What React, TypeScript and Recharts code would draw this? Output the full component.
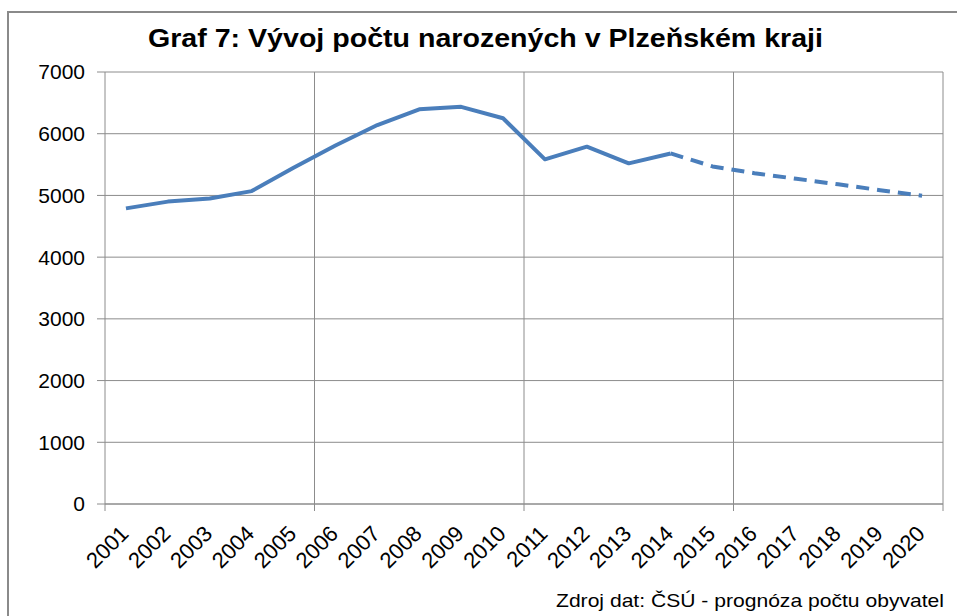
import React from 'react';
import { LineChart, Line, XAxis, YAxis, CartesianGrid, ReferenceLine } from 'recharts';

const years = ['2001', '2002', '2003', '2004', '2005', '2006', '2007', '2008', '2009', '2010', '2011', '2012', '2013', '2014', '2015', '2016', '2017', '2018', '2019', '2020'];
// actual births 2001–2014
const actualBirths = [4790, 4900, 4950, 5070, 5450, 5810, 6140, 6395, 6435, 6250, 5585, 5790, 5520, 5680];
// forecast 2014–2020
const forecastYears = ['2014', '2015', '2016', '2017', '2018', '2019', '2020'];
const forecastBirths = [5680, 5470, 5360, 5270, 5180, 5085, 4995];
const yTicks = [0, 1000, 2000, 3000, 4000, 5000, 6000, 7000];
const gridBoundaries = [5.5, 10.5, 15.5, 20.5];
const axisTickBoundaries = [0.5, 5.5, 10.5, 15.5, 20.5];

const TITLE = 'Graf 7: Vývoj počtu narozených v Plzeňském kraji';
const SOURCE = 'Zdroj dat: ČSÚ - prognóza počtu obyvatel';

const data = years.map((y, i) => {
  const fi = forecastYears.indexOf(y);
  return {
    x: i + 1,
    year: y,
    actual: i < actualBirths.length ? actualBirths[i] : null,
    forecast: fi >= 0 ? forecastBirths[fi] : null,
  };
});

const xTicks = [...years.map((_, i) => i + 1), ...axisTickBoundaries].sort((a, b) => a - b);

const FONT = '"Liberation Sans", Arial, sans-serif';
const GRID = '#8c8c8c';
const BLUE = '#4A7EBB';

const XTick = (props: any) => {
  const { x, y, payload } = props;
  const v = payload.value;
  if (!Number.isInteger(v)) {
    return <line x1={x} x2={x} y1={y} y2={y + 7} stroke={GRID} strokeWidth={1} />;
  }
  const ax = x + 4;
  const ay = y + 31;
  return (
    <text x={ax} y={ay} textAnchor="end" transform={`rotate(-45, ${ax}, ${ay})`} fontSize={22} fontFamily={FONT} fill="#000">
      {years[v - 1]}
    </text>
  );
};

export default function App() {
  return (
    <div style={{ position: 'absolute', left: 0, top: 0, width: 957, height: 616, overflow: 'hidden', background: '#fff' }}>
      <LineChart width={957} height={616} data={data} margin={{ top: 72, right: 14, bottom: 52, left: 45 }}>
        <CartesianGrid vertical={false} stroke={GRID} strokeWidth={1} />
        {gridBoundaries.map((b) => (
          <ReferenceLine key={b} x={b} stroke={GRID} strokeWidth={1} ifOverflow="visible" />
        ))}
        <XAxis
          dataKey="x"
          type="number"
          domain={[0.5, 20.5]}
          ticks={xTicks}
          interval={0}
          tick={<XTick />}
          tickLine={false}
          tickSize={0}
          tickMargin={0}
          height={60}
          axisLine={{ stroke: GRID, strokeWidth: 1 }}
          allowDecimals
        />
        <YAxis
          domain={[0, 7000]}
          ticks={yTicks}
          interval={0}
          width={60}
          tickSize={8}
          tickMargin={12}
          tickLine={{ stroke: GRID }}
          axisLine={{ stroke: GRID, strokeWidth: 1 }}
          tick={{ fontSize: 21, fontFamily: FONT, fill: '#000' }}
        />
        <Line dataKey="actual" stroke={BLUE} strokeWidth={4} dot={false} isAnimationActive={false} strokeLinejoin="round" connectNulls={false} />
        <Line dataKey="forecast" stroke={BLUE} strokeWidth={4} dot={false} isAnimationActive={false} strokeDasharray="13 8" strokeLinejoin="round" connectNulls={false} />
      </LineChart>
      <svg width={957} height={616} style={{ position: 'absolute', left: 0, top: 0, pointerEvents: 'none' }}>
        <rect x={8} y={12} width={1000} height={1000} fill="none" stroke="#8a8a8a" strokeWidth={2} />
        <text x={148} y={47} textLength={675} lengthAdjust="spacingAndGlyphs" fontSize={26} fontWeight="bold" fontFamily={FONT} fill="#000">
          {TITLE}
        </text>
        <text x={556} y={607} textLength={388} lengthAdjust="spacingAndGlyphs" fontSize={19} fontFamily={FONT} fill="#000">
          {SOURCE}
        </text>
      </svg>
    </div>
  );
}
